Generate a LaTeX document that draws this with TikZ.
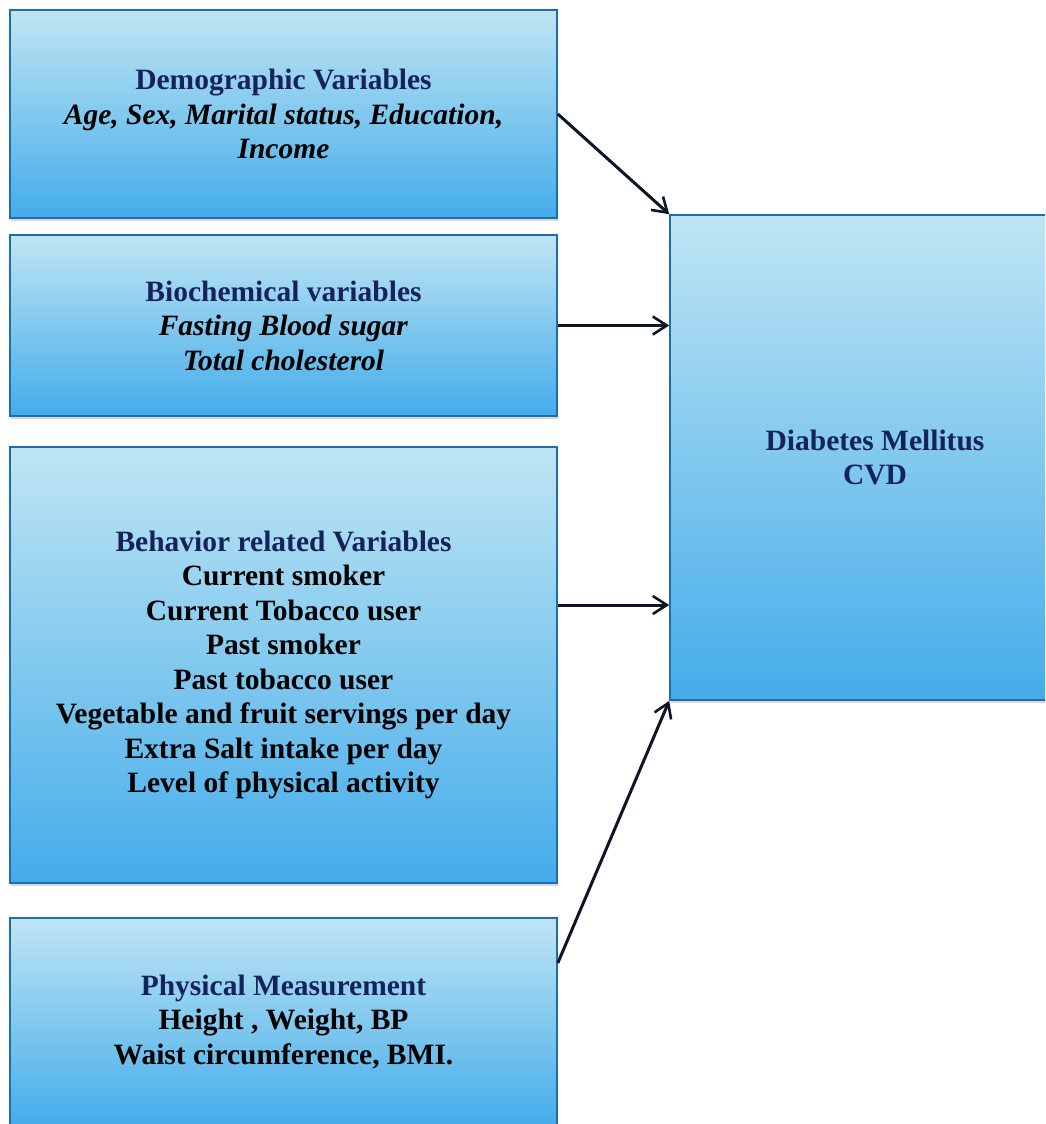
\documentclass[tikz,border=0pt]{standalone}
\usepackage{fontspec}
\setmainfont{Liberation Serif}
\usetikzlibrary{arrows.meta,positioning,shadows}
\definecolor{boxtop}{HTML}{BFE5F3}
\definecolor{boxbot}{HTML}{44ACEA}
\definecolor{boxline}{HTML}{1F6DB0}
\definecolor{headcol}{HTML}{15235A}
\definecolor{arrowcol}{HTML}{0E1626}

\begin{document}
\begin{tikzpicture}[x=1pt,y=-1pt,
  varbox/.style={rectangle, draw=boxline, line width=1.6pt, top color=boxtop, bottom color=boxbot,
    minimum width=547pt, inner sep=0pt, align=center, font=\fontsize{29.5}{34.5}\selectfont\bfseries,
    drop shadow={shadow xshift=1pt, shadow yshift=-2.5pt, opacity=0.3}},
  link/.style={-{Straight Barb[length=14pt,width=18pt,line width=2.6pt]}, line width=3pt, draw=arrowcol}]
\useasboundingbox (0,0) rectangle (1045,1124);
\clip (0,0) rectangle (1045,1124);
\fill[white] (0,0) rectangle (1045,1124);

% input boxes
\node[varbox, minimum height=208pt] (b1) at (283.5,114)
  {\textcolor{headcol}{Demographic Variables}\\ \textit{Age, Sex, Marital status, Education,}\\ \textit{Income}};
\node[varbox, minimum height=181pt] (b2) at (283.5,325.5)
  {\textcolor{headcol}{Biochemical variables}\\ \textit{Fasting Blood sugar}\\ \textit{Total cholesterol}};
\node[varbox, minimum height=436pt] (b3) at (283.5,665)
  {\textcolor{headcol}{Behavior related Variables}\\ Current smoker\\ Current Tobacco user\\ Past smoker\\
   Past tobacco user\\ Vegetable and fruit servings per day\\ Extra Salt intake per day\\ Level of physical activity};
\node[varbox, minimum height=208pt] (b4) at (283.5,1022)
  {\textcolor{headcol}{Physical Measurement}\\ Height , Weight, BP\\ Waist circumference, BMI.};

% outcome
\node[varbox, minimum width=410pt, minimum height=485pt] (dm) at (875,457.5)
  {\textcolor{headcol}{Diabetes Mellitus}\\ \textcolor{headcol}{CVD}};

% arrows
\draw[link] (b1.east) -- (dm.north west);
\draw[link] (b2.east) -- (b2.east -| dm.west);
\draw[link] ([yshift=60pt]b3.east) -- ([yshift=60pt]b3.east -| dm.west);
\draw[link] ([yshift=59pt]b4.east) -- (dm.south west);
\end{tikzpicture}
\end{document}
